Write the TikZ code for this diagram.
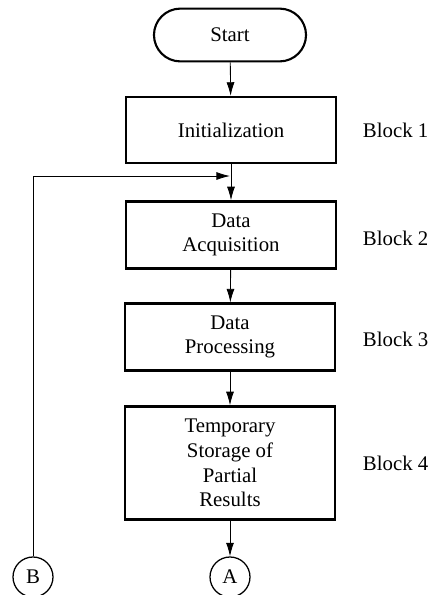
\documentclass[tikz,border=0pt]{standalone}
\usepackage{fontspec}
\setmainfont{Liberation Serif}
\usetikzlibrary{arrows.meta}
\tikzset{
  TextFont/.style={font=\fontsize{14.8}{17.5}\selectfont},
  TermBox/.style={draw,line width=1.5pt,rounded corners=0.66cm,minimum width=3.8cm,minimum height=1.32cm,TextFont},
  BlockBox/.style={draw,line width=1.6pt,minimum width=5.25cm,align=center,TextFont},
  Conn/.style={circle,draw,line width=0.9pt,minimum size=1cm,inner sep=0pt,TextFont},
  Flow/.style={-{Latex[length=3.4mm,width=2mm]},line width=0.6pt},
  BlockLbl/.style={anchor=west,TextFont}
}

\begin{document}
\begin{tikzpicture}[x=0.025cm,y=-0.025cm]
\useasboundingbox (0,0) rectangle (437,595);

\node[TermBox] (start) at (230,35) {Start};

\node[BlockBox,minimum height=1.65cm] (init) at (231,130) {Initialization};
\node[BlockBox,minimum height=1.68cm] (acq) at (231,235) {Data\\Acquisition};
\node[BlockBox,minimum height=1.67cm] (proc) at (230,337) {Data\\Processing};
\node[BlockBox,minimum height=2.83cm] (store) at (230,463) {Temporary\\Storage of\\Partial\\Results};

\node[BlockLbl] (lbl1) at (358,130) {Block 1};
\node[BlockLbl] (lbl2) at (358,238) {Block 2};
\node[BlockLbl] (lbl3) at (358,339) {Block 3};
\node[BlockLbl] (lbl4) at (358,463) {Block 4};

\node[Conn] (A) at (230,577) {A};
\node[Conn] (B) at (33,577) {B};
\coordinate (back) at (230,176);

\draw[Flow] (start) -- (init);
\draw[Flow] (init) -- (acq);
\draw[Flow] (acq) -- (proc);
\draw[Flow] (proc) -- (store);
\draw[Flow] (store) -- (A);
\draw[Flow] (B) |- (back);

\end{tikzpicture}
\end{document}
